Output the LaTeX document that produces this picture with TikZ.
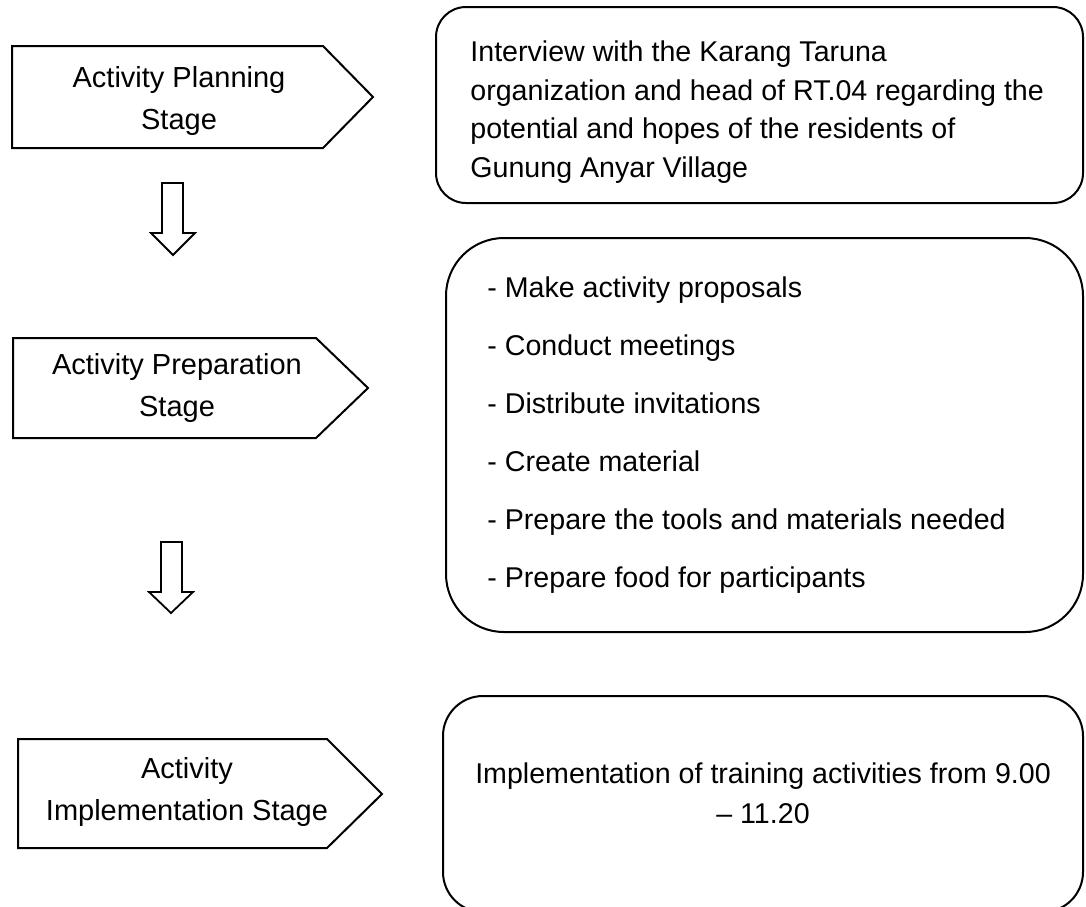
\documentclass[tikz,border=0pt]{standalone}
\usepackage{fontspec}
\setmainfont{Liberation Sans}

\begin{document}
\begin{tikzpicture}[x=0.5pt,y=-0.5pt,
  stage/.style={draw,line width=1pt,fill=white},
  downarrow/.style={draw,line width=0.9pt,fill=white},
  infobox/.style={draw,line width=1pt},
  stagetext/.style={font=\fontsize{14.5pt}{21pt}\selectfont,align=center,inner sep=0pt},
  boxtext/.style={font=\fontsize{14.3pt}{#1}\selectfont,inner sep=0pt}]
\useasboundingbox (0,0) rectangle (1086,906);

% stages on the left
\draw [stage] (12,46) -- (323,46) -- (373,97) -- (323,148) -- (12,148) -- cycle;
\node [stagetext] (planning) at (179,101) {Activity Planning\\Stage};

\draw [stage] (13,338) -- (316,338) -- (368,388) -- (316,438) -- (13,438) -- cycle;
\node [stagetext] (preparation) at (177,388) {Activity Preparation\\Stage};

\draw [stage] (18,739) -- (327,739) -- (382,794) -- (327,848) -- (18,848) -- cycle;
\node [stagetext] (implementation) at (187,792) {Activity\\Implementation Stage};

% hollow arrows between the stages
\draw [downarrow] (162,183) -- (183,183) -- (183,233) -- (195,233) -- (173,255)
  -- (151,233) -- (162,233) -- cycle;
\draw [downarrow] (161,542) -- (182,542) -- (182,592) -- (193,592) -- (171,613)
  -- (149,592) -- (161,592) -- cycle;

% boxes on the right
\draw [infobox,rounded corners=15pt] (436,7) rectangle (1083,203);
\node [boxtext=19.35pt,align=left,anchor=west] (interview) at (470,112)
  {Interview with the Karang Taruna\\
   organization and head of RT.04 regarding the\\
   potential and hopes of the residents of\\
   Gunung Anyar Village};

\draw [infobox,rounded corners=29pt] (446,238) rectangle (1083,632);
\node [boxtext=29pt,align=left,anchor=west] (tasks) at (487,435)
  {- Make activity proposals\\
   - Conduct meetings\\
   - Distribute invitations\\
   - Create material\\
   - Prepare the tools and materials needed\\
   - Prepare food for participants};

\draw [infobox,rounded corners=20pt] (443,696) rectangle (1083,912);
\node [boxtext=20pt,align=center] (training) at (763,793)
  {Implementation of training activities from 9.00\\
   -- 11.20};
\end{tikzpicture}
\end{document}
